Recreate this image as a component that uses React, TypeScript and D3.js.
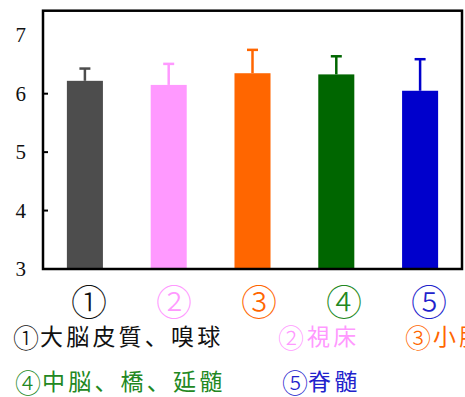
import React from "react";
import * as d3 from "d3";

const categories = ["①", "②", "③", "④", "⑤"];
const means = [6.22, 6.15, 6.35, 6.33, 6.05];
const errors = [0.21, 0.36, 0.4, 0.31, 0.54];
const barColors = ["#4d4d4d", "#ff99ff", "#ff6600", "#006600", "#0000cc"];
const labelColors = ["#111111", "#ff99ff", "#ff6600", "#228822", "#2222cc"];
const yTicks = [3, 4, 5, 6, 7];
const legendRow1 = [
  { mark: "①", text: "大脳皮質、嗅球", color: "#111111" },
  { mark: "②", text: "視床", color: "#ff99ff" },
  { mark: "③", text: "小脳", color: "#ff6600" },
];
const legendRow2 = [
  { mark: "④", text: "中脳、橋、延髄", color: "#228822" },
  { mark: "⑤", text: "脊髄", color: "#2222cc" },
];

export default function App() {
  const W = 465, H = 397;
  const left = 43, right = 462, top = 10.7, bottom = 269;
  const y = d3.scaleLinear().domain([3, 7.42]).range([bottom, top]);
  const x = d3
    .scaleBand<string>()
    .domain(categories)
    .range([left, right])
    .paddingInner(0.57)
    .paddingOuter(0.285);
  const bw = x.bandwidth();
  const legendX1 = [13, 278, 405];
  const legendTX1 = [40, 307, 433];
  const legendX2 = [15, 282];
  const legendTX2 = [42, 308];
  const renderRow = (
    row: { mark: string; text: string; color: string }[],
    mx: number[],
    tx: number[],
    base: number
  ) =>
    row.map((l, i) => (
      <g key={l.text}>
        <text
          x={mx[i]}
          y={base + 3}
          fontSize={26}
          fontWeight={300}
          fontFamily="'Noto Sans CJK JP'"
          fill={l.color}
        >
          {l.mark}
        </text>
        <text
          x={tx[i]}
          y={base}
          fontSize={23}
          letterSpacing={3.2}
          fontFamily="'Noto Sans CJK JP'"
          fill={l.color}
        >
          {l.text}
        </text>
      </g>
    ));
  return (
    <svg
      width={W}
      height={H}
      style={{ position: "absolute", left: 0, top: 0 }}
    >
      <rect x={0} y={0} width={W} height={H} fill="#fff" />
      {categories.map((c, i) => {
        const cx = (x(c) as number) + bw / 2;
        const yTop = y(means[i] + errors[i]);
        return (
          <g key={c}>
            <rect
              x={x(c)}
              y={y(means[i])}
              width={bw}
              height={bottom - y(means[i])}
              fill={barColors[i]}
            />
            <line
              x1={cx}
              x2={cx}
              y1={y(means[i])}
              y2={yTop}
              stroke={barColors[i]}
              strokeWidth={2.5}
            />
            <line
              x1={cx - 5.5}
              x2={cx + 5.5}
              y1={yTop}
              y2={yTop}
              stroke={barColors[i]}
              strokeWidth={2.5}
            />
            <text
              x={cx + 4 + i * 1.2}
              y={316}
              textAnchor="middle"
              fontSize={36}
              fontWeight={300}
              fontFamily="'Noto Sans CJK JP'"
              fill={labelColors[i]}
            >
              {c}
            </text>
          </g>
        );
      })}
      <rect
        x={left}
        y={top}
        width={right - left}
        height={bottom - top}
        fill="none"
        stroke="#000"
        strokeWidth={2.5}
      />
      {yTicks.map((t) => (
        <g key={t}>
          {t > 3 && t < 7 && (
            <line x1={left} x2={left + 5} y1={y(t)} y2={y(t)} stroke="#000" strokeWidth={2} />
          )}
          <text
            x={26}
            y={y(t) + 7}
            textAnchor="end"
            fontSize={21}
            fontFamily="'Liberation Serif', serif"
            fill="#111"
          >
            {t}
          </text>
        </g>
      ))}
      {renderRow(legendRow1, legendX1, legendTX1, 345)}
      {renderRow(legendRow2, legendX2, legendTX2, 390)}
    </svg>
  );
}
